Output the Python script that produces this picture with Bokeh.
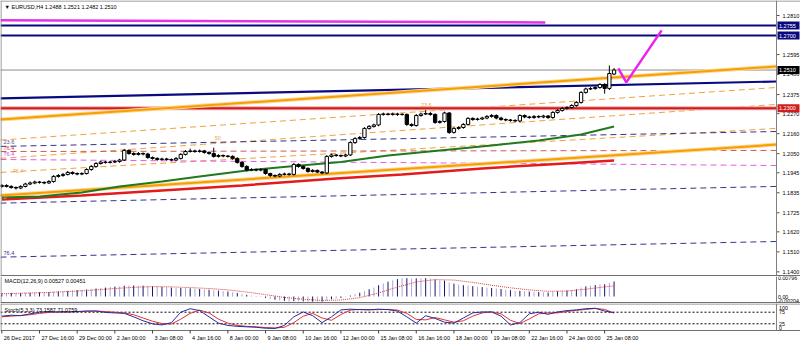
from bokeh.plotting import figure
from bokeh.models import ColumnDataSource, Range1d
from bokeh.layouts import column
from bokeh.embed import file_html
from bokeh.resources import INLINE
from bokeh.core.properties import value

FONT = "Liberation Sans"
FS = "5.5px"

# ---------------- data (EURUSD H4) ----------------
open_ = [1.1870,1.1875,1.1870,1.1864,1.1861,1.1870,1.1883,1.1889,1.1894,1.1892,
         1.1889,1.1897,1.1925,1.1930,1.1936,1.1947,1.1941,1.1938,1.1941,1.1963,
         1.1980,1.1996,1.2004,1.2002,1.2004,1.2007,1.2015,1.2068,1.2051,1.2046,
         1.2051,1.2048,1.2029,1.2024,1.2018,1.2021,1.2018,1.2015,1.2024,1.2046,
         1.2062,1.2065,1.2062,1.2065,1.2057,1.2051,1.2035,1.2040,1.2037,1.2035,
         1.2024,1.2002,1.1980,1.1960,1.1963,1.1960,1.1963,1.1941,1.1930,1.1927,
         1.1936,1.1938,1.1936,1.1991,1.1980,1.1969,1.1952,1.1958,1.1949,1.1944,
         1.2035,1.2043,1.2040,1.2037,1.2043,1.2111,1.2133,1.2139,1.2189,1.2200,
         1.2208,1.2266,1.2268,1.2266,1.2268,1.2266,1.2266,1.2211,1.2205,1.2260,
         1.2268,1.2271,1.2266,1.2222,1.2227,1.2274,1.2167,1.2189,1.2194,1.2211,
         1.2244,1.2238,1.2241,1.2246,1.2255,1.2260,1.2246,1.2238,1.2235,1.2233,
         1.2230,1.2260,1.2252,1.2249,1.2255,1.2252,1.2257,1.2249,1.2277,1.2288,
         1.2299,1.2304,1.2315,1.2332,1.2387,1.2406,1.2408,1.2414,1.2431,1.2409,
         1.2488]
close_ = [1.1875,1.1870,1.1864,1.1861,1.1870,1.1883,1.1889,1.1894,1.1892,1.1889,
          1.1897,1.1925,1.1930,1.1936,1.1947,1.1941,1.1938,1.1941,1.1963,1.1980,
          1.1996,1.2004,1.2002,1.2004,1.2007,1.2015,1.2068,1.2051,1.2046,1.2051,
          1.2048,1.2029,1.2024,1.2018,1.2021,1.2018,1.2015,1.2024,1.2046,1.2062,
          1.2065,1.2062,1.2065,1.2057,1.2051,1.2035,1.2040,1.2037,1.2035,1.2024,
          1.2002,1.1980,1.1960,1.1963,1.1960,1.1963,1.1941,1.1930,1.1927,1.1936,
          1.1938,1.1936,1.1991,1.1980,1.1969,1.1952,1.1958,1.1949,1.1944,1.2035,
          1.2043,1.2040,1.2037,1.2043,1.2111,1.2133,1.2139,1.2189,1.2200,1.2208,
          1.2266,1.2268,1.2266,1.2268,1.2266,1.2266,1.2211,1.2205,1.2260,1.2268,
          1.2271,1.2266,1.2222,1.2227,1.2274,1.2167,1.2189,1.2194,1.2211,1.2244,
          1.2238,1.2241,1.2246,1.2255,1.2260,1.2246,1.2238,1.2235,1.2233,1.2230,
          1.2260,1.2252,1.2249,1.2255,1.2252,1.2257,1.2249,1.2277,1.2288,1.2299,
          1.2304,1.2315,1.2332,1.2387,1.2406,1.2408,1.2414,1.2431,1.2409,1.2491,
          1.2510]
high_ = [1.1883,1.1882,1.1876,1.1870,1.1876,1.1890,1.1897,1.1902,1.1900,1.1898,
         1.1905,1.1932,1.1938,1.1944,1.1955,1.1953,1.1947,1.1948,1.1970,1.1987,
         1.2004,1.2012,1.2010,1.2011,1.2014,1.2022,1.2076,1.2075,1.2058,1.2059,
         1.2057,1.2055,1.2035,1.2030,1.2028,1.2027,1.2024,1.2031,1.2053,1.2070,
         1.2078,1.2072,1.2073,1.2071,1.2063,1.2083,1.2047,1.2046,1.2043,1.2041,
         1.2030,1.2008,1.1986,1.1970,1.1968,1.1970,1.1968,1.1946,1.1936,1.1943,
         1.1946,1.1945,1.1998,1.1996,1.1985,1.1975,1.1965,1.1963,1.1955,1.2042,
         1.2050,1.2048,1.2046,1.2050,1.2119,1.2141,1.2147,1.2196,1.2207,1.2215,
         1.2273,1.2276,1.2275,1.2276,1.2275,1.2273,1.2271,1.2217,1.2268,1.2276,
         1.2290,1.2279,1.2272,1.2234,1.2281,1.2279,1.2196,1.2201,1.2218,1.2251,
         1.2250,1.2248,1.2253,1.2262,1.2268,1.2266,1.2253,1.2244,1.2241,1.2239,
         1.2267,1.2266,1.2258,1.2262,1.2261,1.2264,1.2263,1.2284,1.2295,1.2306,
         1.2311,1.2322,1.2339,1.2394,1.2413,1.2416,1.2421,1.2438,1.2437,1.2535,
         1.2521]
low_ = [1.1862,1.1864,1.1857,1.1853,1.1855,1.1864,1.1877,1.1882,1.1885,1.1882,
        1.1883,1.1890,1.1918,1.1923,1.1930,1.1934,1.1931,1.1932,1.1935,1.1956,
        1.1973,1.1990,1.1995,1.1996,1.1998,1.2000,1.2010,1.2044,1.2039,1.2040,
        1.2041,1.2022,1.2017,1.2011,1.2012,1.2011,1.2008,1.2009,1.2018,1.2040,
        1.2056,1.2055,1.2056,1.2050,1.2044,1.2028,1.2028,1.2030,1.2028,1.2017,
        1.1995,1.1972,1.1953,1.1954,1.1953,1.1953,1.1934,1.1922,1.1920,1.1921,
        1.1930,1.1929,1.1930,1.1973,1.1962,1.1945,1.1946,1.1943,1.1937,1.1938,
        1.2028,1.2033,1.2031,1.2031,1.2037,1.2104,1.2127,1.2132,1.2182,1.2193,
        1.2201,1.2259,1.2260,1.2259,1.2258,1.2259,1.2203,1.2198,1.2199,1.2253,
        1.2263,1.2259,1.2214,1.2215,1.2220,1.2159,1.2160,1.2182,1.2187,1.2204,
        1.2231,1.2232,1.2235,1.2239,1.2248,1.2239,1.2231,1.2228,1.2226,1.2223,
        1.2223,1.2245,1.2242,1.2242,1.2245,1.2245,1.2241,1.2242,1.2270,1.2281,
        1.2292,1.2297,1.2308,1.2325,1.2380,1.2400,1.2402,1.2407,1.2380,1.2400,
        1.2482]

macd_hist = [0.0014,0.0014,0.0015,0.0015,0.0015,0.0016,0.0016,
             0.0017,0.0018,0.0018,0.0019,0.0021,0.0022,
             0.0023,0.0024,0.0026,0.0027,0.0028,0.0030,0.0032,
             0.0034,0.0036,0.0038,0.0040,0.0042,0.0043,
             0.0046,0.0047,0.0047,0.0046,0.0046,0.0045,
             0.0044,0.0042,0.0041,0.0040,0.0038,0.0036,
             0.0036,0.0036,0.0035,0.0034,0.0032,0.0030,
             0.0029,0.0027,0.0025,0.0023,0.0021,0.0018,
             0.0015,0.0011,0.0007,0.0004,0.0001,-0.0002,
             -0.0006,-0.0010,-0.0014,-0.0017,-0.0019,-0.0021,
             -0.0020,-0.0020,-0.0021,-0.0022,-0.0022,-0.0022,
             -0.0022,-0.0016,-0.0012,-0.0009,-0.0006,-0.0003,
             0.0004,0.0010,0.0016,0.0024,0.0031,0.0038,
             0.0048,0.0056,0.0063,0.0069,0.0074,0.0078,
             0.0078,0.0077,0.0077,0.0078,0.0078,0.0076,
             0.0072,0.0069,0.0068,0.0060,0.0055,0.0051,
             0.0048,0.0047,0.0044,0.0042,0.0040,0.0038,
             0.0036,0.0034,0.0032,0.0029,0.0027,0.0024,
             0.0024,0.0023,0.0021,0.0020,0.0019,0.0018,
             0.0017,0.0020,0.0022,0.0024,0.0026,0.0028,
             0.0031,0.0038,0.0043,0.0046,0.0049,0.0052,
             0.0052,0.0058,0.0064]
signal_bars = [0,4,8,12,16,20,24,28,32,36,40,44,48,52,56,60,64,68,72,76,80,84,88,92,96,100,104,108,112,116,120,124,128,130]
macd_signal = [0.0012,0.0014,0.0016,0.0019,0.0023,0.0028,0.0034,0.0039,0.0042,0.0041,0.0038,0.0034,0.0028,0.0019,
               0.0008,-0.0004,-0.0012,-0.0017,-0.0015,-0.0005,0.0015,0.0040,0.0062,0.0072,0.0070,0.0060,0.0048,
               0.0037,0.0028,0.0022,0.0023,0.0031,0.0041,0.0045]
macd_ticks = [0.00796, 0.0, -0.00204]
macd_tick_labels = ["0.00796", "0.00", "-0.00204"]

stoch_bars = list(range(0, 131, 2))
stoch_main = [58,62,60,68,75,77,76,76,78,80,80,74,72,70,55,38,25,20,30,75,90,82,55,28,18,14,12,10,6,5,18,55,76,
              60,30,55,85,88,86,85,88,86,80,55,28,60,48,32,28,50,72,76,76,58,20,30,68,75,66,76,82,85,90,92,80,73]
stoch_signal = [55,58,61,64,70,74,76,76,77,79,80,78,75,72,64,50,36,26,24,45,70,84,72,45,28,18,14,12,9,7,10,30,58,
                70,50,40,65,84,87,86,86,87,84,70,44,42,52,42,32,38,58,72,76,68,40,26,46,68,72,72,78,83,87,91,87,71]
stoch_levels = [25, 75]
stoch_ticks = [100, 75, 25, 0]
stoch_tick_labels = ["100", "75", "25", "0"]

# moving averages (read at a few bars)
green_bars = [0, 8, 17, 25, 34, 42, 52, 61, 72, 82, 93, 104, 114, 123, 130]
green_ma = [1.1809, 1.1815, 1.1837, 1.1870, 1.1897, 1.1925, 1.1958, 1.1980, 1.2004, 1.2040, 1.2068, 1.2095, 1.2123, 1.2156, 1.2200]
red_bars = [0, 17, 34, 51, 71, 85, 102, 116, 130]
red_ma = [1.1798, 1.1820, 1.1848, 1.1875, 1.1914, 1.1936, 1.1969, 1.1991, 1.2013]

# drawn objects: trend lines (bar, price)
upper_channel = [1.2238, 1.2530]
lower_channel = [1.1820, 1.2100]
navy_trend = [1.2354, 1.2447]
magenta_top_bars = [-0.3, 115.4]
magenta_top = [1.2784, 1.2772]
dashed_lines = [
    ([1.2125, 1.2414], "#f0a23c"),
    ([1.2024, 1.2321], "#f0a23c"),
    ([1.1947, 1.2189], "#f0a23c"),
    ([1.2090, 1.2172], "#34348c"),
    ([1.2062, 1.2068], "#cc5a5a"),
    ([1.2018, 1.1985], "#e060e0"),
    ([1.1778, 1.1870], "#34348c"),
    ([1.1481, 1.1567], "#34348c"),
]
v_bars = [130.9, 132.6, 140.1]
v_prices = [1.2519, 1.2442, 1.2728]

level_prices = [1.2755, 1.2700, 1.2300]
level_colors = ["#0a0a80", "#0a0a80", "#d01c1c"]
level_labels = ["1.2755", "1.2700", "1.2300"]
last_price = 1.2510
last_label = "1.2510"

price_ticks = [1.2810, 1.2595, 1.2486, 1.2375, 1.2270, 1.2160, 1.2050, 1.1945, 1.1835, 1.1725, 1.1620, 1.1510, 1.1400]
price_tick_labels = ["1.2810", "1.2595", "1.2486", "1.2375", "1.2270", "1.2160", "1.2050", "1.1945",
                     "1.1835", "1.1725", "1.1620", "1.1510", "1.1400"]

fib_text = ["23.6", "76.4", "76.4", "76.4", "0", "76.4", "50", "23.6"]
fib_x = [0.36, 0.36, 0.36, 2.3, 0.36, 0.36, 45.2, 89.0]
fib_y = [1.2117, 1.2084, 1.2051, 1.19575, 1.18145, 1.15065, 1.2139, 1.23205]
fib_col = ["#505090", "#d03030", "#e040e0", "#f0a23c", "#f0a23c", "#34348c", "#f0a23c", "#f0a23c"]

date_ticks = [0, 8, 16, 24, 32, 40, 48, 56, 64, 72, 80, 88, 96, 104, 112, 120, 128]
date_labels = ["26 Dec 2017", "27 Dec 16:00", "29 Dec 00:00", "2 Jan 00:00", "3 Jan 08:00", "4 Jan 16:00",
               "8 Jan 00:00", "9 Jan 08:00", "10 Jan 16:00", "12 Jan 00:00", "15 Jan 08:00", "16 Jan 16:00",
               "18 Jan 00:00", "19 Jan 08:00", "22 Jan 16:00", "24 Jan 00:00", "25 Jan 08:00"]

header_main = "\u25bc EURUSD,H4  1.2488 1.2521 1.2482 1.2510"
header_macd = "MACD(12,26,9) 0.00527 0.00451"
header_stoch = "Stoch(5,3,3) 73.1587 71.0759"

# ---------------- geometry (bar index units) ----------------
BARPX = 4.7096            # pixels per bar
PX = 1.0 / BARPX          # one pixel in bar units
X_LEFT = -0.28
X_AXIS = X_LEFT + 776 * PX
X_END = X_LEFT + 800 * PX
edge = [X_LEFT, X_AXIS]
bars = list(range(len(close_)))
x_range = Range1d(X_LEFT, X_END)
GRAY = "#808080"


def make_fig(h, yr):
    p = figure(width=800, height=h, x_range=x_range, y_range=yr, output_backend="svg",
               toolbar_location=None, x_axis_location=None, y_axis_location=None,
               min_border_left=0, min_border_right=0, min_border_top=0, min_border_bottom=0)
    p.grid.visible = False
    p.outline_line_color = None
    p.background_fill_color = "white"
    p.border_fill_color = "white"
    return p


def txt(p, x, y, t, color="black", align="left", baseline="middle", size=FS):
    p.text(x=x, y=y, text=t, text_color=color, text_font=value(FONT), text_font_size=size,
           text_align=align, text_baseline=baseline)


# ================= main price panel =================
PPX = 0.00055                       # price per pixel
Y_TOP, Y_BOT = 1.28925, 1.28925 - 276 * PPX
main = make_fig(276, Range1d(Y_BOT, Y_TOP))

for pr, col in dashed_lines:
    main.line(edge, pr, line_color=col, line_width=1, line_dash="6 4")

main.line(edge, [last_price, last_price], line_color="#8c8c8c", line_width=1)
main.line(magenta_top_bars, magenta_top, line_color="#e234e2", line_width=2.5)
for lv, col in zip(level_prices, level_colors):
    if col == "#d01c1c":
        main.line(edge, [lv, lv], line_color="#f2a6a6", line_width=4)
    main.line(edge, [lv, lv], line_color=col, line_width=2.2)

main.line(edge, navy_trend, line_color="#0a0a80", line_width=2.2)
for ch in (upper_channel, lower_channel):
    main.line(edge, ch, line_color="#ffd79a", line_width=4)
    main.line(edge, ch, line_color="#f5a000", line_width=2)

main.line(red_bars, red_ma, line_color="#e41b1b", line_width=2.5)
main.line(green_bars, green_ma, line_color="#1f7a1f", line_width=2)

up = [c >= o for o, c in zip(open_, close_)]
src = ColumnDataSource(dict(
    x=bars, h=high_, l=low_,
    top=[max(o, c) for o, c in zip(open_, close_)],
    bot=[min(o, c) for o, c in zip(open_, close_)],
    fill=["white" if u else "black" for u in up]))
main.segment(x0="x", y0="h", x1="x", y1="l", source=src, line_color="black", line_width=1)
main.vbar(x="x", width=0.7, top="top", bottom="bot", source=src, fill_color="fill",
          line_color="black", line_width=1)

main.line(v_bars, v_prices, line_color="#ee22ee", line_width=2.5)

main.text(x=fib_x, y=fib_y, text=fib_text, text_color=fib_col, text_font=value(FONT),
          text_font_size=FS, text_baseline="middle", text_align="left")
txt(main, [X_LEFT + 4 * PX], [Y_TOP - 6 * PPX], [header_main])

# right price axis
main.segment(x0=[X_AXIS] * len(price_ticks), y0=price_ticks,
             x1=[X_AXIS + 3 * PX] * len(price_ticks), y1=price_ticks, line_color="#505050")
txt(main, [X_AXIS + 6 * PX] * len(price_ticks), price_ticks, price_tick_labels)
box_prices = level_prices + [last_price]
box_colors = level_colors + ["black"]
box_labels = level_labels + [last_label]
main.rect(x=[X_AXIS + 12 * PX] * 4, y=box_prices, width=22 * PX, height=8 * PPX,
          fill_color=box_colors, line_color=None)
txt(main, [X_AXIS + 2.5 * PX] * 4, box_prices, box_labels, color="white")

# frame lines
main.line([X_AXIS, X_AXIS], [Y_BOT, Y_TOP], line_color=GRAY, line_width=1)
main.line([X_LEFT + 0.5 * PX] * 2, [Y_BOT, Y_TOP], line_color=GRAY, line_width=1)
main.line([X_LEFT, X_END], [Y_TOP - 0.5 * PPX] * 2, line_color=GRAY, line_width=1)
main.line([X_LEFT, X_END], [Y_BOT + 0.7 * PPX] * 2, line_color="#707070", line_width=1.5)

# ================= MACD panel =================
MPX = 1 / 2350.0
M_TOP, M_BOT = 20 * MPX, -7 * MPX
macd = make_fig(27, Range1d(M_BOT, M_TOP))
hist_col = ["#14146e" if i % 2 == 0 else "#a9a9d6" for i in bars]
macd.segment(x0=bars, y0=[0] * len(bars), x1=bars, y1=macd_hist, line_color=hist_col, line_width=1)
macd.line(signal_bars, macd_signal, line_color="#e03a3a", line_width=1, line_dash="1 1")
txt(macd, [X_LEFT + 4 * PX], [M_TOP - 4 * MPX], [header_macd])
txt(macd, [X_AXIS + 1.5 * PX] * 3, macd_ticks, macd_tick_labels, size="5.3px")
macd.line([X_AXIS, X_AXIS], [M_BOT, M_TOP], line_color=GRAY, line_width=1)
macd.line([X_LEFT + 0.5 * PX] * 2, [M_BOT, M_TOP], line_color=GRAY, line_width=1)
macd.line([X_LEFT, X_END], [M_BOT + 0.7 * MPX] * 2, line_color="#707070", line_width=1.5)

# ================= Stochastic panel + time axis =================
SPX = 1 / 0.232
S_TOP = 75 + 8.7 * SPX
S_PANEL_BOT = S_TOP - 27 * SPX
S_BOT = S_TOP - 40 * SPX
stoch = make_fig(40, Range1d(S_BOT, S_TOP))
for lvl in stoch_levels:
    stoch.line(edge, [lvl, lvl], line_color="black", line_width=1, line_dash="2 2")
stoch.line(stoch_bars, stoch_signal, line_color="#e03030", line_width=1)
stoch.line(stoch_bars, stoch_main, line_color="#2a2aa0", line_width=1)
txt(stoch, [X_LEFT + 4 * PX], [S_TOP - 6 * SPX], [header_stoch])
stoch_bl = ["top", "middle", "middle", "bottom"]
for t, lab, bl in zip(stoch_ticks, stoch_tick_labels, stoch_bl):
    txt(stoch, [X_AXIS + 2.5 * PX], [t], [lab], baseline=bl, size="5.3px")
stoch.line([X_AXIS, X_AXIS], [S_PANEL_BOT, S_TOP], line_color=GRAY, line_width=1)
stoch.line([X_LEFT + 0.5 * PX] * 2, [S_PANEL_BOT, S_TOP], line_color=GRAY, line_width=1)
stoch.line([X_LEFT, X_END], [S_TOP - 0.5 * SPX] * 2, line_color=GRAY, line_width=1)
stoch.line([X_LEFT, X_END], [S_PANEL_BOT] * 2, line_color="#707070", line_width=1)
stoch.segment(x0=date_ticks, y0=[S_PANEL_BOT] * len(date_ticks), x1=date_ticks,
              y1=[S_PANEL_BOT - 3 * SPX] * len(date_ticks), line_color="#404040", line_width=1)
txt(stoch, [t + 0.4 for t in date_ticks], [S_PANEL_BOT - 7.5 * SPX] * len(date_ticks), date_labels)

layout = column(main, macd, stoch, spacing=0)
open("out.html", "w").write(file_html(layout, INLINE))
